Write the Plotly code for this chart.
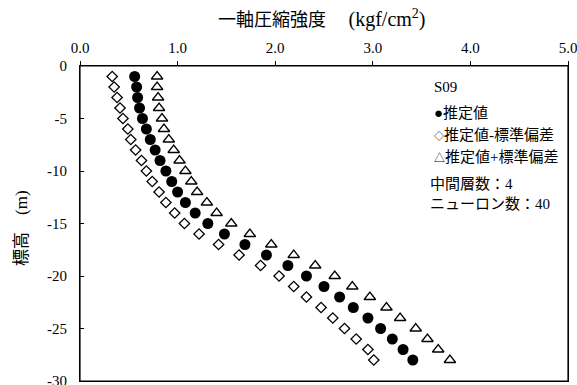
import plotly.graph_objects as go

depth = [-1, -2, -3, -4, -5, -6, -7, -8, -9, -10, -11, -12, -13, -14,
         -15, -16, -17, -18, -19, -20, -21, -22, -23, -24, -25, -26, -27, -28]
estimate = [0.56, 0.58, 0.59, 0.61, 0.64, 0.68, 0.72, 0.77, 0.82, 0.88, 0.94, 1.00, 1.08, 1.18,
            1.31, 1.48, 1.69, 1.91, 2.13, 2.32, 2.50, 2.66, 2.80, 2.95, 3.08, 3.20, 3.31, 3.41]
minus_sd = [0.33, 0.35, 0.38, 0.41, 0.44, 0.49, 0.52, 0.57, 0.63, 0.68, 0.74, 0.81, 0.88, 0.97,
            1.07, 1.22, 1.42, 1.63, 1.85, 2.04, 2.19, 2.32, 2.47, 2.59, 2.71, 2.83, 2.95, 3.01]
plus_sd = [0.79, 0.79, 0.80, 0.81, 0.84, 0.86, 0.91, 0.96, 1.02, 1.08, 1.14, 1.20, 1.30, 1.40,
           1.55, 1.74, 1.96, 2.19, 2.41, 2.61, 2.79, 2.97, 3.14, 3.28, 3.44, 3.56, 3.67, 3.79]

x_ticks = [0, 1, 2, 3, 4, 5]
x_tick_labels = ["0.0", "1.0", "2.0", "3.0", "4.0", "5.0"]
y_ticks = [0, -5, -10, -15, -20, -25, -30]
y_tick_labels = ["0", "-5", "-10", "-15", "-20", "-25", "-30"]

x_title = "一軸圧縮強度　 <span style='font-size:20px'>(kgf/cm<sup>2</sup>)</span>"
y_title = "標高　(m)"
info_lines = ["S09",
              "●推定値",
              "<span style='font-size:10px'>◇</span>推定値-標準偏差",
              "<span style='font-size:11px'>△</span>推定値+標準偏差",
              "中間層数：4",
              "ニューロン数：40"]

serif = "Liberation Serif, Noto Sans CJK JP, serif"

# plot area in pixels
L, R, T, B = 80, 568, 66, 381
W, H = 577, 385

fig = go.Figure()
fig.add_trace(go.Scatter(x=minus_sd, y=depth, mode="markers", name="推定値-標準偏差",
                         marker=dict(symbol="diamond-open", size=8, color="black",
                                     line=dict(width=1.3, color="black"))))
fig.add_trace(go.Scatter(x=plus_sd, y=depth, mode="markers", name="推定値+標準偏差",
                         marker=dict(symbol="triangle-up-open", size=10, color="black",
                                     line=dict(width=1.3, color="black"))))
fig.add_trace(go.Scatter(x=estimate, y=depth, mode="markers", name="推定値",
                         marker=dict(symbol="circle", size=11, color="black")))

fig.update_layout(
    width=W, height=H,
    margin=dict(l=L, r=W - R, t=T, b=H - B, pad=0, autoexpand=False),
    paper_bgcolor="white", plot_bgcolor="white",
    showlegend=False,
    font=dict(family=serif, size=15, color="black"),
    xaxis=dict(range=[0, 5], side="top", tickvals=x_ticks, ticktext=x_tick_labels,
               ticks="outside", ticklen=4, tickcolor="black", tickwidth=1,
               ticklabelstandoff=2, ticklabeloverflow="allow", automargin=False,
               showline=True, linecolor="black", linewidth=1.2, mirror=True,
               showgrid=False, zeroline=False,
               tickfont=dict(family=serif, size=15)),
    yaxis=dict(range=[-30, 0], tickvals=y_ticks, ticktext=y_tick_labels,
               ticks="inside", ticklen=4, tickcolor="black", tickwidth=1,
               ticklabelstandoff=9, ticklabeloverflow="allow", automargin=False,
               showline=True, linecolor="black", linewidth=1.2, mirror=True,
               showgrid=False, zeroline=False,
               tickfont=dict(family=serif, size=15)),
    shapes=[dict(type="rect", xref="paper", yref="paper", x0=0, x1=1, y0=0, y1=1,
                 line=dict(color="black", width=1.2), layer="above")],
)

pw, ph = R - L, B - T

def px_x(x):
    return (x - L) / pw

def px_y(y):
    return 1 - (y - T) / ph

fig.add_annotation(text=x_title, xref="paper", yref="paper",
                   x=px_x(321), y=px_y(18), xanchor="center", yanchor="middle",
                   showarrow=False, font=dict(family=serif, size=18, color="black"))
fig.add_annotation(text=y_title, xref="paper", yref="paper", textangle=-90,
                   x=px_x(22), y=px_y(228), xanchor="center", yanchor="middle",
                   showarrow=False, font=dict(family=serif, size=17, color="black"))

ys = [87, 112.5, 135, 157, 184, 204]
xs = [432, 432, 432, 432, 428, 428]
for txt, yy, xx in zip(info_lines, ys, xs):
    fig.add_annotation(text=txt, xref="paper", yref="paper",
                       x=px_x(xx), y=px_y(yy),
                       xanchor="left", yanchor="middle", showarrow=False,
                       font=dict(family=serif, size=15, color="black"))

fig.write_html("out.html", config={"displayModeBar": False},
               post_script="document.body.style.margin='0';")
